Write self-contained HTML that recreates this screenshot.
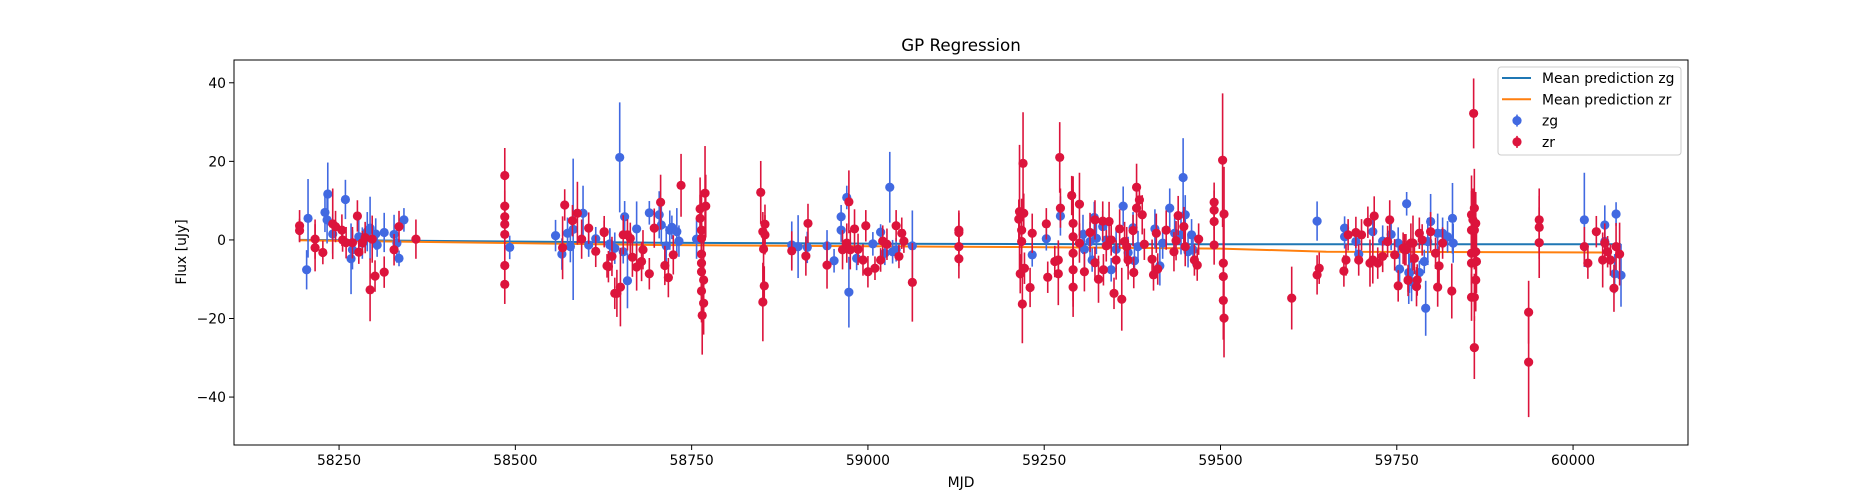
<!DOCTYPE html>
<html><head><meta charset="utf-8"><style>
html,body{margin:0;padding:0;background:#fff;}
svg{display:block;font-family:"DejaVu Sans","Liberation Sans",sans-serif;}
</style></head><body>
<svg id="chart" width="1875" height="500" viewBox="0 0 1875 500" xmlns="http://www.w3.org/2000/svg">
<rect x="0" y="0" width="1875" height="500" fill="#fff"/>
<text x="961" y="51" font-size="16.7" text-anchor="middle">GP Regression</text>
<text x="961" y="487" font-size="13.9" text-anchor="middle">MJD</text>
<text x="0" y="0" font-size="13.9" text-anchor="middle" transform="translate(186,252) rotate(-90)">Flux [uJy]</text>
<g id="plot"></g>
<g id="axes"></g>
<g id="legend"></g>
</svg>
<script>
const xTicks = [58250, 58500, 58750, 59000, 59250, 59500, 59750, 60000];
const yTicks = [-40, -20, 0, 20, 40];
const zgMJD = [58204,58206,58230,58234,58233,58241,58259,58267,58269,58278,58283,58290,58294,58302,58304,58314,58328,58332,58335,58342,58492,58557,58566,58574,58578,58582,58596,58604,58614,58634,
58648,58655,58659,58672,58634,58641,58653,58690,58704,58707,58714,58719,58722,58729,58732,58757,58892,58901,58914,58942,58952,58962,58962,58970,58973,58984,59007,59018,59024,59031,59035,59040,59063,
59233,59253,59273,59305,59307,59315,59318,59321,59324,59333,59338,59345,59352,59362,59369,59376,59378,59383,59407,59414,59418,59428,59435,59444,59447,59450,59454,59459,59461,59637,59676,59676,59692,59696,59716,59730,59742,59752,59754,59764,59767,
59768,59771,59782,59789,59791,59794,59798,59808,59815,59822,59829,59830,60016,60045,60045,60061,60059,60068];
const zgFlux = [-7.6,5.5,7.0,11.7,5.1,1.5,10.3,-4.8,-2.5,0.8,-0.8,2.1,3.0,1.5,-1.3,1.9,1.4,-0.8,-4.7,5.1,-1.9,1.1,-3.6,1.7,-1.7,2.7,6.8,-1.3,0.3,-1.3,
21.0,5.9,-10.4,2.8,-1.0,-2.1,-3.0,6.9,6.4,3.8,-1.5,2.5,3.2,2.1,-0.3,0.2,-1.3,-1.7,-1.9,-1.5,-5.3,5.9,2.5,10.8,-13.3,-4.7,-1.0,2.0,-3.4,13.4,-3.0,-2.5,-1.5,
-3.8,0.3,6.1,1.4,-2.4,-0.4,-5.1,5.7,0.4,3.4,0.0,-7.6,-2.4,8.6,-3.2,3.1,-5.3,-1.7,2.8,-6.6,-0.8,8.1,1.7,1.3,15.9,6.4,-3.0,1.3,-2.5,4.8,3.0,0.8,-0.4,-3.6,2.1,-0.3,1.4,-0.8,-7.4,9.2,-8.3,
-8.5,-10.6,-8.3,-5.5,-17.4,-0.4,4.7,1.7,1.7,0.8,5.5,-0.8,5.1,3.8,-0.4,6.6,-8.6,-9.0];
const zgErr = [5,10,5,8,6,5,5,9,5,5,4,5,8,4,3,5,5,5,2,3,3,4,4,4,4,18,7,3,3,4,
14,4,7,7,4,4,3,3,6,5,5,5,3,6,4,5,6,8,4,4,3,3,3,3,9,3,3,2,3,9,3,3,9,
3,3,5,5,5,5,3,4,4,4,4,3,5,5,4,4,3,4,5,5,4,5,4,5,10,5,4,4,4,5,3,3,3,3,5,4,4,4,4,3,8,
5,5,3,3,7,6,7,5,4,4,9,5,12,5,4,3,5,8];
const zrMJD = [58194,58194,58216,58216,58227,58241,58245,58254,58255,58260,58269,58276,58278,58283,58287,58294,58297,58301,58314,58328,58335,58359,58485,58485,58485,58485,58485,58485,58485,58567,58570,58581,58588,58594,58604,58614,58626,58630,58641,
58626,58632,58637,58644,58649,58653,58659,58663,58666,58672,58679,58681,58690,58697,58706,58712,58717,58724,58735,58762,58762,58764,58764,58764,58764,58764,58764,58765,58767,58767,58769,58770,58848,58851,58854,58854,58852,58853,58851,58892,58912,58915,58942,58964,58970,58973,58975,58981,58986,58993,58997,59000,59010,59018,59021,59027,59040,59044,59048,59051,59063,59129,59129,59129,59129,
59220,59215,59214,59218,59218,59216,59219,59221,59222,59230,59233,59253,59255,59265,59270,59270,59272,59273,59289,59291,59291,59291,59291,59291,59300,59300,59307,59315,59322,59322,59327,59333,59334,59338,59342,59345,59349,59352,59357,59360,59364,59367,59369,59376,59377,59381,59381,59385,59389,59392,59403,59405,59409,59411,59423,59434,59437,59440,59448,59450,59463,59467,59469,59491,59491,59491,59491,59503,59505,59504,59504,59504,59505,59601,59637,59640,59675,59678,59681,59692,59696,59700,59709,59712,59716,59718,59723,59730,59737,59740,59747,59752,59761,59766,59770,
59859,59856,59858,59860,59862,59856,59860,59856,59862,59856,59863,59862,59856,59860,59860,59937,59937,59952,59952,59952,60016,60021,60033,60042,60045,60049,60053,60058,60061,60066,59759,59763,59773,59775,59778,59779,59782,59786,59798,59805,59808,59810,59815,59828,59766];
const zrFlux = [3.6,2.4,0.2,-2.0,-3.2,4.1,3.4,2.5,0.0,-0.7,-0.7,6.1,-3.1,-0.7,0.6,-12.7,0.2,-9.2,-8.2,-2.5,3.4,0.2,16.4,8.6,5.9,4.0,1.4,-6.5,-11.3,-2.0,8.9,4.9,6.8,0.2,3.0,-2.9,1.9,-6.6,-13.6,
2.1,-6.8,-4.2,-13.6,-12.0,1.3,1.3,0.4,-4.4,-6.9,-5.5,-2.5,-8.6,3.0,9.6,-6.5,-9.6,-3.8,13.9,7.9,5.5,2.5,0.4,-3.6,-5.9,-8.1,-13.0,-19.2,-10.2,-16.1,11.9,8.6,12.1,2.1,4.0,1.3,-2.3,-11.7,-15.8,-2.8,-4.1,4.2,-6.4,-2.5,-0.8,9.7,-2.5,2.8,-2.4,-5.1,3.6,-8.1,-7.2,-5.1,-0.3,-1.1,3.6,-4.2,1.7,-0.3,-10.8,2.5,1.9,-1.7,-4.8,
19.5,7.2,5.3,2.5,-0.4,-8.6,-16.3,6.8,-7.2,-12.1,1.7,4.1,-9.5,-5.5,-5.1,-8.6,21.0,8.1,11.3,4.2,0.8,-3.4,-7.6,-12.0,9.1,-0.8,-8.1,1.9,5.1,-5.8,-10.0,4.8,-7.6,-1.5,4.7,0.0,-13.6,-5.1,2.8,-15.1,-0.4,-1.7,-5.1,2.4,-8.3,13.4,8.1,10.2,6.4,-1.1,-4.9,-8.9,1.7,-7.4,2.5,-3.0,-0.2,6.2,3.4,-1.7,-5.1,-6.4,0.2,9.6,7.6,4.7,-1.3,20.3,6.6,-5.9,-9.3,-15.4,-19.9,-14.8,-8.9,-7.2,-7.9,-5.1,1.3,1.9,-5.1,1.3,4.5,-5.9,-5.1,6.1,-5.9,-4.2,-0.4,5.1,-3.8,-11.7,-2.5,-10.3,-0.8,
32.2,6.4,5.1,8.1,4.2,2.5,2.5,-3.4,-3.0,-5.9,-5.5,-10.2,-14.6,-14.6,-27.4,-18.4,-31.1,5.1,3.2,-0.7,-1.7,-5.9,2.1,-5.1,-0.8,-3.0,-5.1,-12.3,-1.7,-3.6,-2.1,-2.5,-0.8,-4.7,-11.9,-10.2,1.7,0.0,2.1,-3.4,-12.0,-6.6,-0.8,-13.0,-10.2];
const zrErr = [4,3,5,6,3,9,4,4,3,4,4,4,3,3,4,8,6,4,4,4,4,5,7,4,4,4,4,4,5,8,4,4,8,5,4,4,3,3,4,
4,4,5,6,10,5,4,4,5,6,5,5,4,5,7,5,5,5,8,8,6,10,8,10,10,10,8,10,10,8,12,8,8,5,5,5,5,5,10,5,5,5,6,5,5,8,5,5,4,4,4,4,3,3,4,4,4,3,4,3,10,5,5,5,5,
13,17,5,8,8,5,10,5,4,5,5,4,4,4,5,8,9,5,5,12,12,12,12,5,8,5,5,5,5,4,6,5,4,4,5,4,4,5,5,8,5,5,5,4,4,6,6,4,5,4,5,4,5,4,5,5,5,5,5,5,4,4,4,5,5,5,5,17,12,10,10,10,10,8,5,4,4,4,4,4,4,4,4,6,6,5,4,4,4,5,4,4,4,4,5,
8.9,10,8,10,8,10,10,8,8,8,8,8,6,6,8,8,14,8,8,9,5,4,4,7,5,4,4,6,6,8,4,4,7,4,5,4,4,4,5,4,5,5,4,7,3];
const zgMeanMJD = [58194, 58700, 59100, 59500, 60068];
const zgMeanFlux = [0.0, -0.7, -1.0, -1.1, -1.1];
const zrMeanMJD = [58194, 58700, 59200, 59500, 59650, 60045];
const zrMeanFlux = [-0.1, -1.3, -1.8, -2.2, -3.0, -3.2];

const L=234, R=1688, T=60, B=445;
const xMin=58101, xMax=60163, yMin=-52.2, yMax=45.8;
const xs = v => L + (v - xMin) / (xMax - xMin) * (R - L);
const ys = v => B - (v - yMin) / (yMax - yMin) * (B - T);
const NS='http://www.w3.org/2000/svg';
function mk(tag, attrs, parent){const e=document.createElementNS(NS,tag);for(const k in attrs)e.setAttribute(k,attrs[k]);parent.appendChild(e);return e;}
const plot=document.getElementById('plot'), axes=document.getElementById('axes'), legend=document.getElementById('legend');

function drawLine(mx, fy, color, name){
  const d = mx.map((m,i)=>(i?'L':'M')+xs(m).toFixed(1)+' '+ys(fy[i]).toFixed(1)).join(' ');
  const p = mk('path',{d:d,fill:'none',stroke:color,'stroke-width':2},plot);
  
  
}
function drawPoints(mx, fy, er, color, name){
  const g = mk('g',{},plot);
  
  
  mx.forEach((m,i)=>{
    const x=xs(m);
    const bar = mk('line',{x1:x,x2:x,y1:ys(fy[i]+er[i]),y2:ys(fy[i]-er[i]),stroke:color,'stroke-width':1.6},g);
    
    
    const c = mk('circle',{cx:x,cy:ys(fy[i]),r:4.6,fill:color},g);
    
    
  });
}
drawLine(zgMeanMJD, zgMeanFlux, '#1f77b4', 'mean-prediction-zg-line');
drawLine(zrMeanMJD, zrMeanFlux, '#ff7f0e', 'mean-prediction-zr-line');
drawPoints(zgMJD, zgFlux, zgErr, '#4169e1', 'zg-series');
drawPoints(zrMJD, zrFlux, zrErr, '#dc143c', 'zr-series');

const frame = mk('rect',{x:L,y:T,width:R-L,height:B-T,fill:'none',stroke:'#000','stroke-width':1},axes);


xTicks.forEach(t=>{
  const x=xs(t);
  const tk = mk('line',{x1:x,x2:x,y1:B,y2:B+5,stroke:'#000','stroke-width':1},axes);
  
  
  const tx = mk('text',{x:x,y:B+20,'font-size':13.9,'text-anchor':'middle'},axes);
  tx.textContent = t;
  
  
});
yTicks.forEach(t=>{
  const y=ys(t);
  const tk = mk('line',{x1:L-5,x2:L,y1:y,y2:y,stroke:'#000','stroke-width':1},axes);
  
  
  const tx = mk('text',{x:L-8,y:y+5,'font-size':13.9,'text-anchor':'end'},axes);
  tx.textContent = (t<0?'\u2212'+(-t):t);
  
  
});

const box = mk('rect',{x:1498,y:67,width:183,height:88,rx:3,fill:'#fff','fill-opacity':0.8,stroke:'#ccc','stroke-width':1},legend);


const items = [['Mean prediction zg','#1f77b4','line'],['Mean prediction zr','#ff7f0e','line'],['zg','#4169e1','pt'],['zr','#dc143c','pt']];
items.forEach((it,i)=>{
  const y = 78 + i*21.3;
  const g = mk('g',{},legend);
  
  
  if(it[2]==='line'){ mk('line',{x1:1502,x2:1531,y1:y,y2:y,stroke:it[1],'stroke-width':2},g); }
  else { mk('line',{x1:1517,x2:1517,y1:y-6,y2:y+6,stroke:it[1],'stroke-width':1.6},g); mk('circle',{cx:1517,cy:y,r:4.6,fill:it[1]},g); }
  const t = mk('text',{x:1542,y:y+5,'font-size':13.9},g);
  t.textContent = it[0];
});
</script>
</body></html>
